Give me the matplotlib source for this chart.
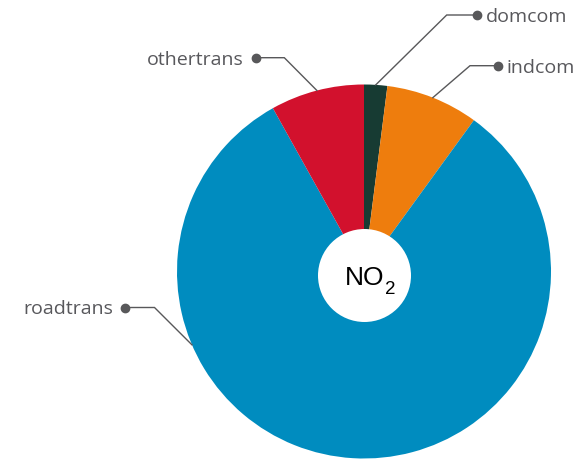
import numpy as np
import matplotlib
matplotlib.use("Agg")
import matplotlib.pyplot as plt
from matplotlib.patches import Circle

# data (share of NO2 emissions, %)
sectors = ["domcom", "indcom", "roadtrans", "othertrans"]
shares = [2.0, 8.0, 81.9, 8.1]
colors = ["#173b33", "#ee7d0d", "#008cbf", "#d2112d"]

W, H = 579, 459
CX, CY, R = 364, 271.5, 187.0  # pie centre / radius in pixels

fig = plt.figure(figsize=(W / 100, H / 100), dpi=100)
ax = fig.add_axes([0, 0, 1, 1])

wedges, _ = ax.pie(shares, colors=colors, startangle=90, counterclock=False,
                   radius=1.0, wedgeprops=dict(linewidth=0))

# pie() sets its own limits, so fix them afterwards
ax.set_xlim(-CX / R, (W - CX) / R)
ax.set_ylim(-(H - CY) / R, CY / R)
ax.set_aspect("equal")
ax.axis("off")

# white hole in the middle
ax.add_patch(Circle(((364.5 - CX) / R, (CY - 275.5) / R), 46.5 / R,
                    facecolor="white", edgecolor="none", zorder=3))


def px(x, y):
    return (x - CX) / R, (CY - y) / R


ax.text(*px(345, 285), "NO", fontsize=19, family="Liberation Sans",
        ha="left", va="baseline", color="black", zorder=4)
ax.text(*px(384.5, 293.5), "2", fontsize=13.5, family="Liberation Sans",
        ha="left", va="baseline", color="black", zorder=4)

# leader lines: label anchor angle on the rim, elbow, dot, side
cum = np.cumsum([0] + shares)
mid_deg = 90 - 3.6 * (cum[:-1] + cum[1:]) / 2
anchors = {
    "domcom": (mid_deg[0], (446.7, 15), (476.5, 15), "left"),
    "indcom": (mid_deg[1], (470, 65.7), (497.5, 65.7), "left"),
    "roadtrans": (203.1, (154.5, 307.5), (125, 307.5), "right"),
    "othertrans": (mid_deg[3], (284.3, 57.7), (255.5, 57.7), "right"),
}
gray = "#58585a"
for name in sectors:
    ang, elbow, dot, side = anchors[name]
    a = np.deg2rad(ang)
    rim = (np.cos(a), np.sin(a))
    ex, ey = px(*elbow)
    dx, dy = px(*dot)
    ax.plot([rim[0], ex, dx], [rim[1], ey, dy], color=gray, lw=1.0,
            solid_joinstyle="miter", zorder=2)
    ax.plot(dx, dy, "o", color=gray, ms=6, zorder=2)
    off = 9.5 / R if side == "left" else -11.5 / R
    ax.text(dx + off, dy, name, fontsize=14, family="Open Sans",
            color="#58585c", ha=side, va="center_baseline")

fig.savefig("out.png", dpi=100)
